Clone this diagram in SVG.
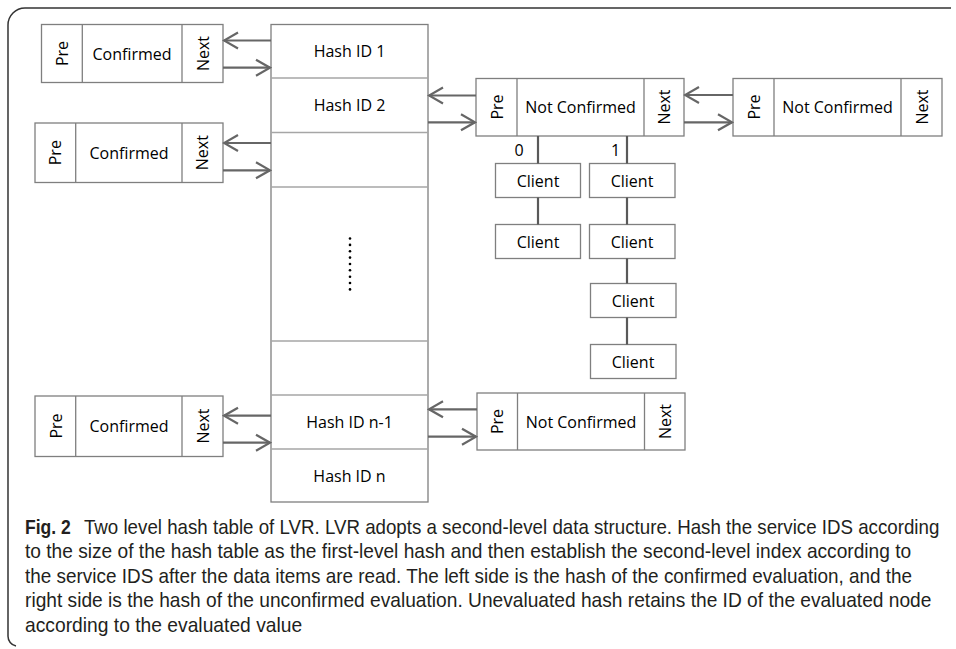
<svg xmlns="http://www.w3.org/2000/svg" width="956" height="649" viewBox="0 0 956 649">
<defs>
<marker id="ah" viewBox="-16 -10 18 20" refX="0" refY="0" markerWidth="18" markerHeight="20" markerUnits="userSpaceOnUse" orient="auto">
<path d="M-14,-8 L0,0 L-14,8" fill="none" stroke="#666" stroke-width="2.2"/>
</marker>
<style>
.box{fill:#fff;stroke:#7f7f7f;stroke-width:1.3}
.div{stroke:#7f7f7f;stroke-width:1.3}
.hdiv{stroke:#a6a6a6;stroke-width:1.3}
.t{font-family:"Open Sans","Liberation Sans",sans-serif;font-size:16px;fill:#000;text-anchor:middle;dominant-baseline:central}
.arr{stroke:#666;stroke-width:2.2;fill:none;marker-end:url(#ah)}
.ln{stroke:#595959;stroke-width:2.2;fill:none}
.cap{font-family:"Liberation Sans",Arial,sans-serif;font-size:20px;fill:#231f20}
</style>
</defs>
<rect width="956" height="649" fill="#fff"/>
<path d="M951,8 H25 A17,17 0 0 0 8,25 V636 A10,10 0 0 0 16,646" fill="none" stroke="#333" stroke-width="1.5"/>

<g id="hash-table">
<rect class="box" x="271" y="24.5" width="157" height="477.5"/>
<line class="hdiv" x1="271" y1="78" x2="428" y2="78"/>
<line class="hdiv" x1="271" y1="132.5" x2="428" y2="132.5"/>
<line class="hdiv" x1="271" y1="187" x2="428" y2="187"/>
<line class="hdiv" x1="271" y1="341" x2="428" y2="341"/>
<line class="hdiv" x1="271" y1="395" x2="428" y2="395"/>
<line class="hdiv" x1="271" y1="449" x2="428" y2="449"/>
<text class="t" x="349.5" y="51">Hash ID 1</text>
<text class="t" x="349.5" y="105">Hash ID 2</text>
<text class="t" x="349.5" y="422">Hash ID n-1</text>
<text class="t" x="349.5" y="475.5">Hash ID n</text>
<g fill="#000">
<circle cx="350" cy="238.5" r="1.3"/><circle cx="350" cy="244.9" r="1.3"/><circle cx="350" cy="251.2" r="1.3"/>
<circle cx="350" cy="257.6" r="1.3"/><circle cx="350" cy="264" r="1.3"/><circle cx="350" cy="270.3" r="1.3"/>
<circle cx="350" cy="276.7" r="1.3"/><circle cx="350" cy="283" r="1.3"/><circle cx="350" cy="289.4" r="1.3"/>
</g>
</g>

<g id="confirmed-1">
<rect class="box" x="41.5" y="24.5" width="181.5" height="58"/>
<line class="div" x1="82.3" y1="24.5" x2="82.3" y2="82.5"/>
<line class="div" x1="182" y1="24.5" x2="182" y2="82.5"/>
<text class="t" x="62" y="53.5" transform="rotate(-90 62 53.5)">Pre</text>
<text class="t" x="132" y="53.5">Confirmed</text>
<text class="t" x="202.5" y="53.5" transform="rotate(-90 202.5 53.5)">Next</text>
</g>

<g id="confirmed-2">
<rect class="box" x="35" y="123" width="188" height="59.5"/>
<line class="div" x1="75.7" y1="123" x2="75.7" y2="182.5"/>
<line class="div" x1="182" y1="123" x2="182" y2="182.5"/>
<text class="t" x="55.5" y="152.7" transform="rotate(-90 55.5 152.7)">Pre</text>
<text class="t" x="129" y="152.7">Confirmed</text>
<text class="t" x="202.5" y="152.7" transform="rotate(-90 202.5 152.7)">Next</text>
</g>

<g id="confirmed-3">
<rect class="box" x="35" y="396" width="188" height="60.5"/>
<line class="div" x1="75.7" y1="396" x2="75.7" y2="456.5"/>
<line class="div" x1="182" y1="396" x2="182" y2="456.5"/>
<text class="t" x="55.5" y="426" transform="rotate(-90 55.5 426)">Pre</text>
<text class="t" x="129" y="426">Confirmed</text>
<text class="t" x="202.5" y="426" transform="rotate(-90 202.5 426)">Next</text>
</g>

<g id="not-confirmed-1">
<rect class="box" x="476" y="78.5" width="208" height="57.5"/>
<line class="div" x1="517" y1="78.5" x2="517" y2="136"/>
<line class="div" x1="644" y1="78.5" x2="644" y2="136"/>
<text class="t" x="496.5" y="107" transform="rotate(-90 496.5 107)">Pre</text>
<text class="t" x="580.5" y="107">Not Confirmed</text>
<text class="t" x="664" y="107" transform="rotate(-90 664 107)">Next</text>
</g>

<g id="not-confirmed-2">
<rect class="box" x="733" y="78.5" width="209" height="57.5"/>
<line class="div" x1="774" y1="78.5" x2="774" y2="136"/>
<line class="div" x1="901" y1="78.5" x2="901" y2="136"/>
<text class="t" x="753.5" y="107" transform="rotate(-90 753.5 107)">Pre</text>
<text class="t" x="837.5" y="107">Not Confirmed</text>
<text class="t" x="921.5" y="107" transform="rotate(-90 921.5 107)">Next</text>
</g>

<g id="not-confirmed-3">
<rect class="box" x="477" y="393" width="208" height="57"/>
<line class="div" x1="517.5" y1="393" x2="517.5" y2="450"/>
<line class="div" x1="644.5" y1="393" x2="644.5" y2="450"/>
<text class="t" x="497" y="421.5" transform="rotate(-90 497 421.5)">Pre</text>
<text class="t" x="581" y="421.5">Not Confirmed</text>
<text class="t" x="665" y="421.5" transform="rotate(-90 665 421.5)">Next</text>
</g>

<g id="client-0a"><rect class="box" x="495.5" y="163.5" width="85" height="34"/><text class="t" x="538" y="180.5">Client</text></g>
<g id="client-0b"><rect class="box" x="495.5" y="224.5" width="85" height="34"/><text class="t" x="538" y="241.5">Client</text></g>
<g id="client-1a"><rect class="box" x="589.5" y="163.5" width="85.5" height="34"/><text class="t" x="632" y="180.5">Client</text></g>
<g id="client-1b"><rect class="box" x="589.5" y="224.5" width="85.5" height="34"/><text class="t" x="632" y="241.5">Client</text></g>
<g id="client-1c"><rect class="box" x="590.5" y="283.5" width="85.5" height="34"/><text class="t" x="633" y="300.5">Client</text></g>
<g id="client-1d"><rect class="box" x="590.5" y="344.5" width="85.5" height="34"/><text class="t" x="633" y="361.5">Client</text></g>

<g id="connectors">
<line class="arr" x1="271" y1="40.5" x2="224" y2="40.5"/>
<line class="arr" x1="223" y1="67.7" x2="270" y2="67.7"/>
<line class="arr" x1="271" y1="143" x2="224" y2="143"/>
<line class="arr" x1="223" y1="170.3" x2="270" y2="170.3"/>
<line class="arr" x1="271" y1="415.7" x2="224" y2="415.7"/>
<line class="arr" x1="223" y1="442.7" x2="270" y2="442.7"/>
<line class="arr" x1="476" y1="95.5" x2="429" y2="95.5"/>
<line class="arr" x1="428" y1="122.3" x2="475" y2="122.3"/>
<line class="arr" x1="733" y1="95" x2="685" y2="95"/>
<line class="arr" x1="684" y1="122.3" x2="732" y2="122.3"/>
<line class="arr" x1="477" y1="409.3" x2="429" y2="409.3"/>
<line class="arr" x1="428" y1="436.7" x2="476" y2="436.7"/>
<line class="ln" x1="538" y1="136" x2="538" y2="163.5"/>
<line class="ln" x1="538" y1="197.5" x2="538" y2="224.5"/>
<line class="ln" x1="627" y1="136" x2="627" y2="163.5"/>
<line class="ln" x1="627" y1="197.5" x2="627" y2="224.5"/>
<line class="ln" x1="627" y1="258.5" x2="627" y2="283.5"/>
<line class="ln" x1="627" y1="317.5" x2="627" y2="344.5"/>
<text class="t" x="519" y="150">0</text>
<text class="t" x="615.5" y="150">1</text>
</g>

<g id="caption" transform="translate(25 0) scale(0.88 1)">
<text class="cap" x="0" y="534" font-weight="bold" textLength="52" lengthAdjust="spacingAndGlyphs">Fig. 2</text>
<text class="cap" x="67" y="534" textLength="972" lengthAdjust="spacingAndGlyphs">Two level hash table of LVR. LVR adopts a second-level data structure. Hash the service IDS according</text>
<text class="cap" x="0" y="558" textLength="1007" lengthAdjust="spacingAndGlyphs">to the size of the hash table as the first-level hash and then establish the second-level index according to</text>
<text class="cap" x="0" y="583" textLength="1008" lengthAdjust="spacingAndGlyphs">the service IDS after the data items are read. The left side is the hash of the confirmed evaluation, and the</text>
<text class="cap" x="0" y="607" textLength="1030" lengthAdjust="spacingAndGlyphs">right side is the hash of the unconfirmed evaluation. Unevaluated hash retains the ID of the evaluated node</text>
<text class="cap" x="0" y="632" textLength="315" lengthAdjust="spacingAndGlyphs">according to the evaluated value</text>
</g>
</svg>
